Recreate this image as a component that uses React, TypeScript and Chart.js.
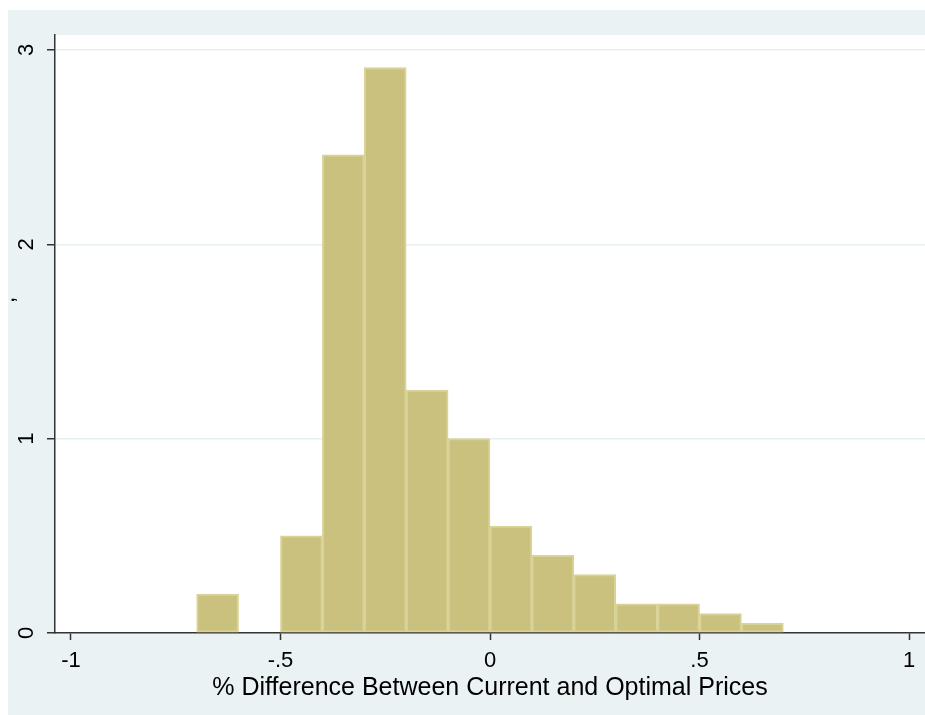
import React, { useEffect, useRef } from "react";
import { Chart, registerables } from "chart.js";

Chart.register(...registerables);

// ---- data ----
const binStarts = [-0.7, -0.5, -0.4, -0.3, -0.2, -0.1, 0.0, 0.1, 0.2, 0.3, 0.4, 0.5, 0.6];
const densities = [0.2, 0.5, 2.46, 2.91, 1.25, 1.0, 0.55, 0.4, 0.3, 0.15, 0.15, 0.1, 0.05];
const binWidth = 0.1;
const xTickValues = [-1, -0.5, 0, 0.5, 1];
const xTickLabels = ["-1", "-.5", "0", ".5", "1"];
const yTickValues = [0, 1, 2, 3];
const yTickLabels = ["0", "1", "2", "3"];
const xTitle = "% Difference Between Current and Optimal Prices";
const yTitle = ",";

const FONT = "'Liberation Sans', Arial, Helvetica, sans-serif";

export default function App() {
  const ref = useRef<HTMLCanvasElement | null>(null);

  useEffect(() => {
    document.body.style.margin = "0";
    document.body.style.overflow = "hidden";
    const canvas = ref.current;
    if (!canvas) return;

    const bgPlugin = {
      id: "stataBg",
      beforeDraw(chart: any) {
        const { ctx, chartArea } = chart;
        ctx.save();
        ctx.fillStyle = "#EAF2F3";
        ctx.fillRect(0, 0, chart.width, chart.height);
        ctx.fillStyle = "#FFFFFF";
        ctx.fillRect(chartArea.left, chartArea.top, chartArea.right - chartArea.left, chartArea.bottom - chartArea.top);
        ctx.restore();
      },
      afterDraw(chart: any) {
        const { ctx, chartArea } = chart;
        const y = chart.scales.y;
        ctx.save();
        ctx.fillStyle = "#000000";
        ctx.font = `22px ${FONT}`;
        ctx.textAlign = "center";
        ctx.textBaseline = "middle";
        yTickValues.forEach((v, i) => {
          const py = y.getPixelForValue(v);
          ctx.save();
          ctx.translate(19, py);
          ctx.rotate(-Math.PI / 2);
          ctx.fillText(yTickLabels[i], 0, 0);
          ctx.restore();
        });
        // y title remnant
        ctx.save();
        ctx.translate(0, 290);
        ctx.rotate(-Math.PI / 2);
        ctx.fillText(yTitle, 0, 0);
        ctx.restore();
        // x title
        ctx.font = `25px ${FONT}`;
        ctx.fillText(xTitle, (chartArea.left + chartArea.right) / 2, 678);
        ctx.restore();
      },
    };

    const chart = new Chart(canvas, {
      type: "bar",
      data: {
        datasets: [
          {
            data: binStarts.map((s, i) => ({ x: s + binWidth / 2, y: densities[i] })),
            backgroundColor: "#C9C17D",
            borderColor: "#D9D397",
            borderWidth: 2,
            borderSkipped: false,
            barPercentage: 1,
            categoryPercentage: 1,
          } as any,
        ],
      },
      options: {
        animation: false,
        responsive: false,
        maintainAspectRatio: false,
        layout: { padding: { top: 25, right: 0, left: 0, bottom: 0 } },
        plugins: { legend: { display: false }, tooltip: { enabled: false } },
        scales: {
          x: {
            type: "linear",
            min: -1.038,
            max: 1.038,
            offset: false,
            afterBuildTicks: (s: any) => {
              s.ticks = xTickValues.map((v) => ({ value: v }));
            },
            afterFit: (s: any) => {
              s.height = 82;
            },
            grid: {
              offset: false,
              drawOnChartArea: false,
              drawTicks: true,
              tickLength: 7,
              tickColor: "#333333",
              tickWidth: 1.5,
            },
            border: { display: true, color: "#333333", width: 1.5 },
            ticks: {
              autoSkip: false,
              maxRotation: 0,
              minRotation: 0,
              padding: 8,
              color: "#000000",
              font: { family: FONT, size: 22 },
              callback: (v: any) => {
                const i = xTickValues.indexOf(Number(v));
                return i >= 0 ? xTickLabels[i] : "";
              },
            },
          },
          y: {
            type: "linear",
            min: 0,
            max: 3.077,
            afterBuildTicks: (s: any) => {
              s.ticks = yTickValues.map((v) => ({ value: v }));
            },
            afterFit: (s: any) => {
              s.width = 47;
            },
            grid: {
              drawOnChartArea: true,
              drawTicks: true,
              tickLength: 8,
              tickColor: "#333333",
              tickWidth: 1.5,
              lineWidth: 1.5,
              color: (c: any) => (c.tick && c.tick.value === 0 ? "rgba(0,0,0,0)" : "#E6EFF0"),
            },
            border: { display: true, color: "#333333", width: 1.5 },
            ticks: { display: false },
          },
        },
      },
      plugins: [bgPlugin],
    });

    return () => chart.destroy();
  }, []);

  return (
    <div style={{ padding: "10px 0 0 8px" }}>
      <canvas ref={ref} width={917} height={705} style={{ width: "917px", height: "705px", display: "block" }} />
    </div>
  );
}
